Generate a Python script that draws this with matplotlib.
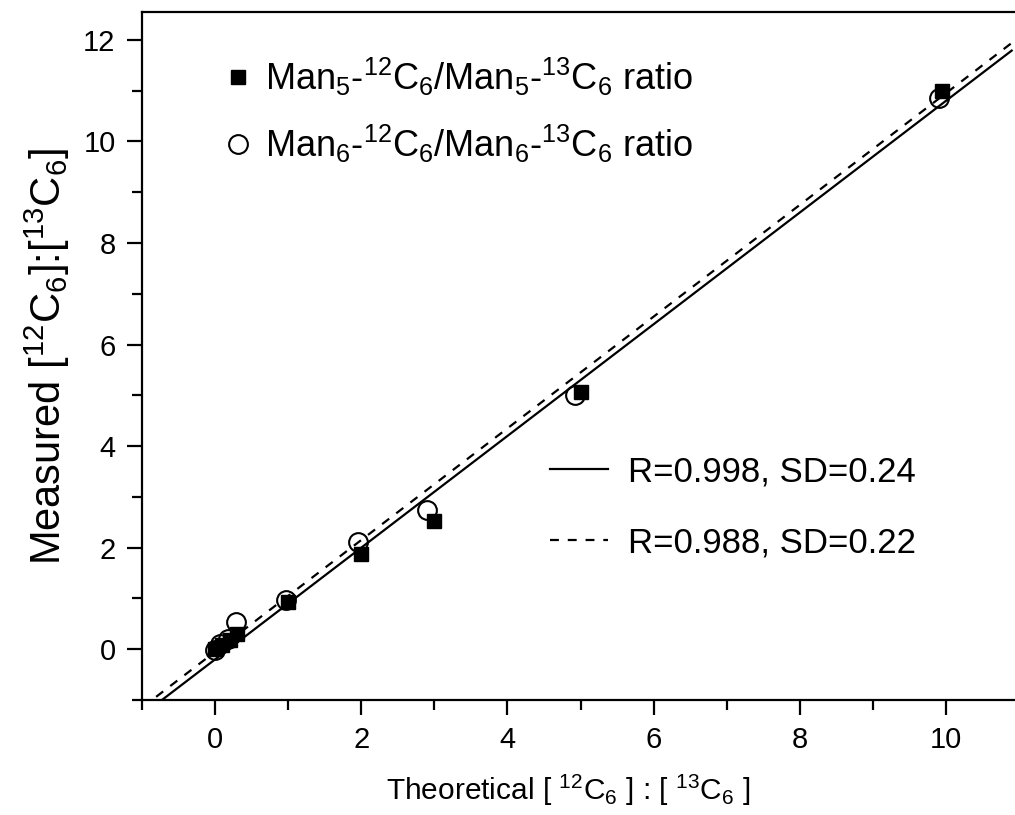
import numpy as np
import matplotlib.pyplot as plt
from matplotlib.lines import Line2D

plt.rcParams['font.family'] = 'Liberation Sans'
plt.rcParams['mathtext.fontset'] = 'custom'
plt.rcParams['mathtext.rm'] = 'Liberation Sans'
plt.rcParams['mathtext.it'] = 'Liberation Sans:italic'
plt.rcParams['mathtext.bf'] = 'Liberation Sans:bold'

# Man5 ratio (filled squares)
man5_x = [0, 0.1, 0.2, 0.3, 1, 2, 3, 5, 9.95]
man5_y = [0.0, 0.08, 0.18, 0.3, 0.93, 1.88, 2.53, 5.07, 11.0]
# Man6 ratio (open circles)
man6_x = [0, 0.07, 0.17, 0.28, 0.97, 1.95, 2.9, 4.93, 9.9]
man6_y = [-0.02, 0.1, 0.2, 0.54, 0.97, 2.12, 2.75, 5.01, 10.85]

# linear fits: slope, intercept
fit_solid = (1.10, -0.20)
fit_dashed = (1.10, -0.05)
fit_x = np.array([-1.0, 10.9])

lab5 = r'Man$_5$-$^{12}$C$_6$/Man$_5$-$^{13}$C$_6$ ratio'
lab6 = r'Man$_6$-$^{12}$C$_6$/Man$_6$-$^{13}$C$_6$ ratio'
lab_solid = 'R=0.998, SD=0.24'
lab_dashed = 'R=0.988, SD=0.22'

fig = plt.figure(figsize=(10.15, 8.15), dpi=100)
ax = fig.add_axes([142 / 1015, 1 - 700 / 815, (1019 - 142) / 1015, (700 - 12) / 815])

ax.plot(fit_x, fit_solid[0] * fit_x + fit_solid[1], '-', color='black', lw=1.6)
ax.plot(fit_x, fit_dashed[0] * fit_x + fit_dashed[1], color='black', lw=1.6,
        dashes=(4, 4))
ax.plot(man5_x, man5_y, 's', color='black', ms=10, ls='none')
ax.plot(man6_x, man6_y, 'o', mfc='none', mec='black', mew=1.5, ms=13.5, ls='none')

ax.set_xlim(-0.97, 11)
ax.set_ylim(-1, 12.55)
ax.set_xticks([0, 2, 4, 6, 8, 10])
ax.set_xticks([-1, 1, 3, 5, 7, 9, 11], minor=True)
ax.set_yticks([0, 2, 4, 6, 8, 10, 12])
ax.set_yticks([-1, 1, 3, 5, 7, 9, 11], minor=True)
ax.tick_params(which='major', direction='out', length=11, width=1.6,
               labelsize=21, pad=8, top=False, right=False)
ax.tick_params(which='minor', direction='out', length=7, width=1.6,
               top=False, right=False)
for s in ['left', 'bottom', 'top']:
    ax.spines[s].set_linewidth(1.6)
ax.spines['right'].set_visible(False)

ax.set_xlabel(r'Theoretical [ $^{12}$C$_6$ ] : [ $^{13}$C$_6$ ]', fontsize=21.5)
ax.xaxis.set_label_coords(0.486, -0.106)
ax.set_ylabel(r'Measured [$^{12}$C$_6$]:[$^{13}$C$_6$]', fontsize=30, labelpad=8)

h1 = [Line2D([], [], marker='s', color='black', ms=10, ls='none'),
      Line2D([], [], marker='o', mfc='none', mec='black', mew=1.5, ms=13.5, ls='none')]
leg1 = ax.legend(h1, [lab5, lab6], loc='upper left', bbox_to_anchor=(0.072, 0.958),
                 frameon=False, fontsize=26, handlelength=1.0, handletextpad=0.25,
                 labelspacing=0.7, borderaxespad=0)
ax.add_artist(leg1)

h2 = [Line2D([], [], color='black', lw=1.6),
      Line2D([], [], color='black', lw=1.6, dashes=(4, 4))]
ax.legend(h2, [lab_solid, lab_dashed], loc='upper left', bbox_to_anchor=(0.449, 0.376),
          frameon=False, fontsize=25, handlelength=1.67, handletextpad=0.58,
          labelspacing=1.1, borderaxespad=0)

plt.savefig('out.png', dpi=100)
